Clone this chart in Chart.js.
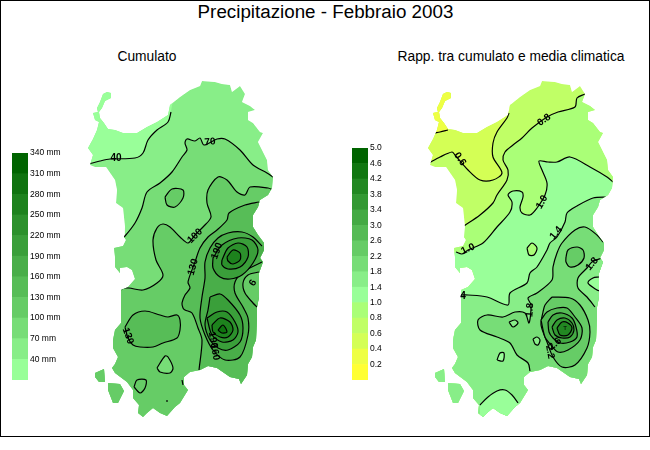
<!DOCTYPE html>
<html>
<head>
<meta charset="utf-8">
<title>Precipitazione - Febbraio 2003</title>
<script src="https://cdn.jsdelivr.net/npm/chart.js@4"></script>
<style>
  body { margin: 0; background: #fff; font-family: "Liberation Sans", Arial, sans-serif; color: #000; }
  #frame { position: absolute; left: 0; top: 0; width: 650px; height: 437px; box-sizing: border-box; border: 1px solid #000; }
  canvas { position: absolute; }
  .txt { position: absolute; white-space: nowrap; text-align: center; }
  #title { left: 0; width: 651px; top: 1px; font-size: 18.8px; line-height: 22px; }
  #sub1 { left: 47px; width: 200px; top: 49px; font-size: 13.8px; line-height: 16px; }
  #sub2 { left: 361px; width: 300px; top: 49px; font-size: 13.8px; line-height: 16px; }
</style>
</head>
<body>
<div id="frame"></div>
<div class="txt" id="title">Precipitazione - Febbraio 2003</div>
<div class="txt" id="sub1">Cumulato</div>
<div class="txt" id="sub2">Rapp. tra cumulato e media climatica</div>
<canvas id="mapLeft" width="310" height="360" style="left:0;top:70px"></canvas>
<canvas id="mapRight" width="310" height="360" style="left:340px;top:70px"></canvas>
<canvas id="barLeft" width="70" height="241" style="left:12px;top:146px"></canvas>
<canvas id="barRight" width="50" height="246" style="left:352px;top:141px"></canvas>
<script>
// color bars, bottom band first
const cumLabels = ['40 mm','70 mm','100 mm','130 mm','160 mm','190 mm','220 mm','250 mm','280 mm','310 mm','340 mm'];
const rapLabels = ['0.2','0.4','0.6','0.8','1.0','1.4','1.8','2.2','2.6','3.0','3.4','3.8','4.2','4.6','5.0'];
const greens = ['#99ff99','#88ee88','#77dd77','#66cc66','#57bd57','#49ae49','#3a9f3a','#2c912c','#1d821d','#0f730f','#006400'];
const rapColors = ['#ffff33','#eeff44','#d4ff55','#c0ff66','#aaff77','#99ff99','#88ee88','#77dd77','#66cc66','#55bb55','#44aa44','#339933','#228822','#117711','#006400'];

// coastline of the island
const coast = [[103,94],[107,92],[111,93],[111,98],[105,101],[102,108],[99,112],[100,118],[104,123],[108,129],[115,130],[123,133],[137,133],[147,127],[157,122],[168,115],[170,105],[180,97],[190,90],[200,86],[202,81],[215,82],[222,84],[230,85],[232,92],[240,86],[245,94],[242,102],[250,106],[255,110],[248,112],[248,120],[253,123],[260,132],[263,133],[258,142],[262,150],[267,160],[268,170],[273,177],[272,188],[268,195],[260,200],[258,207],[253,215],[253,227],[258,235],[264,243],[264,250],[260,258],[263,262],[259,273],[259,297],[257,307],[257,320],[256,340],[253,347],[252,357],[248,364],[247,375],[241,384],[239,379],[230,377],[217,368],[208,366],[200,370],[190,372],[184,377],[184,385],[188,390],[180,403],[175,407],[167,416],[160,413],[153,408],[147,413],[143,417],[138,413],[139,405],[133,398],[133,390],[127,382],[115,373],[112,368],[115,364],[118,357],[113,348],[113,340],[115,330],[121,323],[121,290],[128,287],[135,279],[132,270],[127,267],[120,268],[120,273],[115,267],[115,257],[114,248],[123,246],[126,240],[124,237],[125,227],[123,208],[116,203],[117,190],[115,180],[106,167],[95,167],[90,165],[93,155],[88,148],[93,139],[97,130],[99,122],[95,120],[93,113],[98,112],[97,108],[100,102]];
const isola1 = [[95,373],[104,369],[105,382],[99,382],[95,377]];
const isola2 = [[108,383],[120,384],[124,391],[118,403],[113,403],[108,390]];

// left map contours
const c40 = [[89,164],[100,161],[110,159],[135,158],[143,153],[148,140],[157,130],[168,122],[171,112]];
const c70 = [[122,238],[125,236],[135,223],[142,208],[147,192],[160,183],[172,172],[182,157],[187,150],[185,143],[187,139],[195,141],[200,138],[204,145],[217,139],[225,139],[240,150],[253,165],[267,173],[273,177]];
const c100 = [[122,288],[129,288],[143,290],[157,283],[163,275],[156,260],[153,240],[157,228],[163,224],[170,227],[180,237],[188,243],[195,235],[203,227],[211,217],[207,203],[208,190],[218,177],[227,180],[237,192],[245,195],[250,187],[268,188],[273,190]];
const c100n = [[165,197],[172,189],[183,190],[183,198],[175,207],[167,205],[165,197]];
const c100h1 = [[157,368],[165,356],[168,357],[173,368],[170,373],[160,372],[157,368]];
const c100h2 = [[134,387],[137,380],[146,380],[145,388],[140,393],[134,387]];
const c130 = [[259,202],[245,205],[229,213],[227,220],[217,230],[208,237],[200,248],[195,262],[188,282],[190,288],[185,295],[182,303],[183,308],[185,310],[192,313],[198,328],[202,340],[199,370]];
const c130w = [[125,327],[133,315],[145,311],[160,315],[168,317],[177,315],[180,320],[180,330],[177,338],[163,343],[153,347],[140,347],[133,345],[128,338],[125,327]];
const c130e = [[259,272],[248,275],[243,283],[245,293],[253,303],[257,307]];
const c160 = [[262,246],[253,237],[242,232],[228,233],[218,238],[210,248],[205,262],[205,278],[202,297],[200,318],[205,335],[213,350],[225,360],[240,357],[248,335],[248,318],[243,307],[235,293],[235,282],[243,272],[262,262]];
const c190n = [[213,258],[222,245],[238,238],[252,240],[258,250],[253,263],[242,275],[230,279],[220,277],[213,268],[213,258]];
const c220n = [[222,260],[228,248],[238,243],[247,247],[248,257],[240,267],[228,269],[222,265],[222,260]];
const c250n = [[227,257],[233,250],[240,253],[240,260],[233,264],[228,261],[227,257]];
const c190s = [[210,297],[220,294],[228,300],[240,315],[243,328],[240,342],[228,350],[218,348],[210,340],[205,325],[208,310],[210,297]];
const c220s = [[207,318],[217,312],[227,312],[235,322],[238,332],[233,340],[222,342],[212,335],[207,318]];
const c250s = [[212,325],[220,318],[230,322],[233,330],[228,337],[220,337],[213,332],[212,325]];
const c280s = [[218,330],[223,325],[227,332],[222,333],[218,330]];
const cumBits = [[[182,380],[183,385]],[[167,400],[167,402]],[[121,287],[122,290]]];
const cumText = ['40','70','100','190','130','130','190','160','6'];
const cumTextX = [116,210,195,217,193,128,213,215,253];
const cumTextY = [158,142,236,251,267,336,340,352,283];
const cumTextRot = [0,-5,-45,-70,-75,70,80,80,-60];

// right map contours
const r04 = [[95,133],[100,132],[108,130]];
const r06 = [[89,163],[100,157],[112,152],[115,155],[128,170],[140,180],[153,180],[162,173],[153,157],[153,143],[157,132],[167,118],[169,113]];
const r08 = [[245,94],[237,98],[235,107],[218,112],[207,117],[192,128],[182,138],[173,145],[165,152],[163,160],[168,170],[167,180],[157,195],[153,203],[140,215],[124,226]];
const r10 = [[116,252],[122,254],[128,250],[143,243],[157,227],[170,212],[172,202],[168,195],[173,191],[182,192],[183,197],[180,207],[182,213],[190,215],[197,208],[205,195],[207,183],[202,170],[199,161],[208,162],[217,162],[230,157],[250,167],[267,177],[273,182]];
const r10h = [[187,248],[192,243],[197,248],[194,255],[189,255],[187,248]];
const r14 = [[268,197],[253,198],[237,206],[227,213],[225,222],[217,237],[210,243],[207,250],[197,267],[190,273],[187,283],[170,293],[168,305],[147,297],[128,295],[121,295]];
const r14s = [[140,405],[148,397],[157,391],[165,390],[172,395],[178,403]];
const r14e = [[259,277],[253,278],[248,283],[257,290],[260,291]];
const r14h = [[157,360],[160,353],[164,353],[163,361],[157,360]];
const r18 = [[263,242],[257,235],[245,227],[235,230],[222,243],[217,253],[213,267],[212,280],[197,293],[188,298],[191,305],[189,323],[185,313],[175,312],[163,317],[147,315],[138,320],[140,330],[157,337],[170,343],[177,355],[188,363],[190,371]];
const r18e = [[262,258],[252,262],[247,268],[238,278],[238,288],[247,297],[255,307]];
const r18h1 = [[169,322],[175,320],[178,323],[173,327],[169,322]];
const r18h2 = [[193,339],[197,337],[200,340],[198,345],[195,344],[193,339]];
const r22n = [[226,257],[228,250],[237,247],[243,250],[244,258],[238,265],[230,267],[226,262],[226,257]];
const r22s = [[212,297],[205,305],[203,312],[201,325],[207,342],[213,357],[222,367],[235,365],[247,348],[250,332],[248,320],[240,305],[230,298],[212,297]];
const r26 = [[201,320],[207,312],[217,308],[227,308],[235,317],[242,328],[240,340],[228,350],[218,352],[211,345],[205,337],[201,320]];
const r30 = [[208,322],[213,315],[222,313],[232,318],[236,327],[237,337],[230,342],[220,343],[213,338],[209,332],[208,322]];
const r34 = [[212,327],[217,320],[225,318],[232,323],[234,330],[230,337],[222,338],[215,335],[212,327]];
const r38 = [[217,328],[222,322],[228,323],[232,328],[228,335],[220,335],[217,328]];
const rapText = ['0.8','0.6','1.0','1.0','1.4','1.8','4','1.8','2.6','2.2','T'];
const rapTextX = [204,120,202,128,216,252,123,190,215,210,225];
const rapTextY = [120,159,202,249,233,264,296,310,344,352,328];
const rapTextRot = [-35,55,-60,-25,-50,-50,0,-85,-40,80,0];

// one filled area (contour plus a closure out at sea, the clip trims it) and its line
function area(line, closure, color) {
    return [
        { data: line.concat(closure), fill: 'shape', backgroundColor: color, borderColor: 'rgba(0,0,0,0)', borderWidth: 0, tension: 0.3 },
        { data: line, borderColor: '#000', borderWidth: 1.2, tension: 0.3 }
    ];
}

function flat(color, shape) {
    return { data: shape.concat([shape[0]]), fill: 'shape', backgroundColor: color, borderColor: color, borderWidth: 0.5 };
}

const cumSets = [
    flat(greens[1], coast), flat(greens[3], isola1), flat(greens[3], isola2),
    ...area(c40, [[171,90],[90,85],[70,120],[70,164]], greens[0]),
    ...area(c70, [[295,177],[295,430],[100,430],[100,238]], greens[2]),
    ...area(c100n, [], greens[3]),
    ...area(c100, [[295,190],[295,430],[100,430],[100,288]], greens[3]),
    ...area(c100h1, [], greens[2]),
    ...area(c100h2, [], greens[3]),
    ...area(c130w, [], greens[4]),
    ...area(c130, [[199,395],[295,395],[295,202]], greens[4]),
    ...area(c130e, [[295,307],[295,272]], greens[3]),
    ...area(c160, [[295,262],[295,246]], greens[5]),
    ...area(c190n, [], greens[6]),
    ...area(c190s, [], greens[6]),
    ...area(c220n, [], greens[7]),
    ...area(c220s, [], greens[7]),
    ...area(c250n, [], greens[8]),
    ...area(c250s, [], greens[8]),
    ...area(c280s, [], greens[9]),
    ...cumBits.map(b => ({ data: b, borderColor: '#000', borderWidth: 1.2 }))
];

const rapSets = [
    flat(rapColors[3], coast), flat(rapColors[6], isola1), flat(rapColors[6], isola2),
    ...area(r06, [[169,90],[80,90],[70,163]], rapColors[2]),
    ...area(r04, [[108,80],[85,80],[85,133]], rapColors[1]),
    ...area(r08, [[100,226],[100,430],[295,430],[295,94]], rapColors[4]),
    ...area(r10, [[295,182],[295,430],[90,430],[90,252]], rapColors[5]),
    ...area(r10h, [], rapColors[4]),
    ...area(r14, [[100,295],[100,430],[295,430],[295,197]], rapColors[6]),
    ...area(r14s, [[178,430],[140,430]], rapColors[5]),
    ...area(r14h, [], rapColors[5]),
    ...area(r18, [[195,395],[295,395],[295,242]], rapColors[7]),
    ...area(r18e, [[295,307],[295,258]], rapColors[6]),
    ...area(r14e, [[295,291],[295,277]], rapColors[5]),
    ...area(r18h1, [], rapColors[6]),
    ...area(r18h2, [], rapColors[6]),
    ...area(r22n, [], rapColors[8]),
    ...area(r22s, [], rapColors[8]),
    ...area(r26, [], rapColors[9]),
    ...area(r30, [], rapColors[10]),
    ...area(r34, [], rapColors[11]),
    ...area(r38, [], rapColors[12])
];

// keeps the filled areas inside the coastline
const clipCoast = {
    id: 'clipCoast',
    beforeDatasetsDraw(chart) {
        const x = chart.scales.x, y = chart.scales.y, ctx = chart.ctx;
        ctx.save();
        ctx.beginPath();
        [coast, isola1, isola2].forEach(shape => {
            shape.forEach((p, i) => {
                if (i === 0) ctx.moveTo(x.getPixelForValue(p[0]), y.getPixelForValue(p[1]));
                else ctx.lineTo(x.getPixelForValue(p[0]), y.getPixelForValue(p[1]));
            });
            ctx.closePath();
        });
        ctx.clip();
    },
    afterDatasetsDraw(chart) {
        chart.ctx.restore();
    }
};

// contour labels
function labelPlugin(texts, xs, ys, rots) {
    return {
        id: 'contourLabels',
        afterDraw(chart) {
            const ctx = chart.ctx;
            texts.forEach((t, i) => {
                ctx.save();
                ctx.translate(chart.scales.x.getPixelForValue(xs[i]), chart.scales.y.getPixelForValue(ys[i]));
                ctx.rotate(rots[i] * Math.PI / 180);
                ctx.font = t === 'T' ? '6px "Liberation Sans"' : 'bold 10px "Liberation Sans"';
                ctx.fillStyle = '#000';
                ctx.textAlign = 'center';
                ctx.textBaseline = 'middle';
                ctx.fillText(t, 0, 0);
                ctx.restore();
            });
        }
    };
}

function drawMap(id, sets, plugin) {
    // datasets are painted last to first by default, so flip with order
    sets.forEach((s, i) => {
        s.order = -i;
        s.showLine = true;
        s.pointRadius = 0;
        s.pointHoverRadius = 0;
    });
    new Chart(document.getElementById(id), {
        type: 'scatter',
        data: { datasets: sets },
        options: {
            responsive: false,
            animation: false,
            events: [],
            layout: { padding: 0 },
            plugins: { legend: { display: false }, tooltip: { enabled: false } },
            scales: {
                x: { display: false, min: 0, max: 310 },
                y: { display: false, min: 70, max: 430, reverse: true }
            }
        },
        plugins: [clipCoast, plugin]
    });
}

function drawBar(id, labels, colors, labelWidth) {
    new Chart(document.getElementById(id), {
        type: 'bar',
        data: {
            labels: [''],
            datasets: colors.map((c, i) => ({
                data: [[i, i + 1]],
                backgroundColor: c,
                barPercentage: 1,
                categoryPercentage: 1,
                grouped: false
            }))
        },
        options: {
            responsive: false,
            animation: false,
            events: [],
            layout: { padding: 0 },
            plugins: { legend: { display: false }, tooltip: { enabled: false } },
            scales: {
                x: { display: false },
                y: {
                    position: 'right',
                    min: 0,
                    max: colors.length,
                    afterFit: s => { s.width = labelWidth; },
                    grid: { display: false, drawTicks: false },
                    border: { display: false },
                    ticks: {
                        stepSize: 1,
                        autoSkip: false,
                        padding: 2,
                        color: '#000',
                        font: { family: 'Liberation Sans', size: 8.5 },
                        callback: v => v === 0 ? '' : labels[v - 1]
                    }
                }
            }
        }
    });
}

Chart.defaults.devicePixelRatio = 1;
drawMap('mapLeft', cumSets, labelPlugin(cumText, cumTextX, cumTextY, cumTextRot));
drawMap('mapRight', rapSets, labelPlugin(rapText, rapTextX, rapTextY, rapTextRot));
drawBar('barLeft', cumLabels, greens, 54);
drawBar('barRight', rapLabels, rapColors, 34);
</script>
</body>
</html>
